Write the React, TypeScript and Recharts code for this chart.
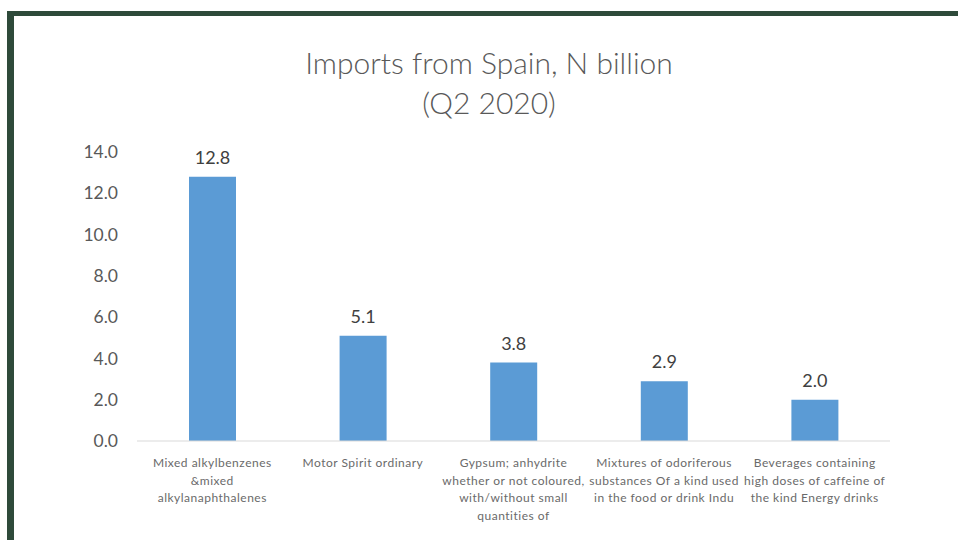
import { Bar, BarChart, LabelList, XAxis, YAxis } from "recharts";

const categories = [
  "Mixed alkylbenzenes &mixed alkylanaphthalenes",
  "Motor Spirit ordinary",
  "Gypsum; anhydrite whether or not coloured, with/without small quantities of",
  "Mixtures of odoriferous substances Of a kind used in the food or drink Indu",
  "Beverages containing high doses of caffeine of the kind Energy drinks",
];
const values = [12.8, 5.1, 3.8, 2.9, 2.0];
const labelLines = [
  ["Mixed alkylbenzenes", "&mixed", "alkylanaphthalenes"],
  ["Motor Spirit ordinary"],
  ["Gypsum; anhydrite", "whether or not coloured,", "with/without small", "quantities of"],
  ["Mixtures of odoriferous", "substances Of a kind used", "in the food or drink Indu"],
  ["Beverages containing", "high doses of caffeine of", "the kind Energy drinks"],
];
const yTicks = [0, 2, 4, 6, 8, 10, 12, 14];

const data = categories.map((name, i) => ({ name, value: values[i] }));

const FONT = "Lato, 'Liberation Sans', sans-serif";

function CategoryTick(props: any) {
  const { x, y, payload } = props;
  const lines = labelLines[categories.indexOf(payload.value)] ?? [];
  return (
    <text
      x={x}
      y={y + 24}
      textAnchor="middle"
      fill="#6a6a6a"
      fontSize={12}
      letterSpacing={0.5}
      fontFamily={FONT}
    >
      {lines.map((line, i) => (
        <tspan key={i} x={x} dy={i === 0 ? 0 : 17.5}>
          {line}
        </tspan>
      ))}
    </text>
  );
}

export default function App() {
  return (
    <div style={{ position: "absolute", left: 0, top: 0, width: 958, height: 540, background: "#fff", fontFamily: FONT }}>
      <div style={{ position: "absolute", left: 7, top: 11, width: 951, height: 5, background: "#2e4a3a" }} />
      <div style={{ position: "absolute", left: 7, top: 11, width: 7, height: 529, background: "#2e4a3a" }} />
      <div
        style={{
          position: "absolute",
          left: 0,
          width: 978,
          top: 42,
          textAlign: "center",
          color: "#595959",
          fontSize: 30,
          fontWeight: 300,
          lineHeight: "40px",
        }}
      >
        Imports from Spain, N billion
        <br />
        (Q2 2020)
      </div>
      <div style={{ position: "absolute", left: 0, top: 0 }}>
        <BarChart width={958} height={540} data={data} margin={{ top: 152, right: 68, bottom: 9, left: 77 }}>
          <XAxis
            dataKey="name"
            interval={0}
            tickLine={false}
            tickSize={0}
            height={90}
            axisLine={{ stroke: "#d9d9d9" }}
            tick={<CategoryTick />}
          />
          <YAxis
            domain={[0, 14]}
            ticks={yTicks}
            width={60}
            axisLine={false}
            tickLine={false}
            tickSize={0}
            tickMargin={19}
            tickFormatter={(v: number) => v.toFixed(1)}
            tick={{ fill: "#595959", fontSize: 17.5, fontFamily: FONT }}
          />
          <Bar dataKey="value" fill="#5b9bd5" barSize={47} isAnimationActive={false}>
            <LabelList
              dataKey="value"
              position="top"
              offset={13}
              formatter={(v: any) => Number(v).toFixed(1)}
              style={{ fill: "#404040", fontSize: 18, fontFamily: FONT }}
            />
          </Bar>
        </BarChart>
      </div>
    </div>
  );
}
